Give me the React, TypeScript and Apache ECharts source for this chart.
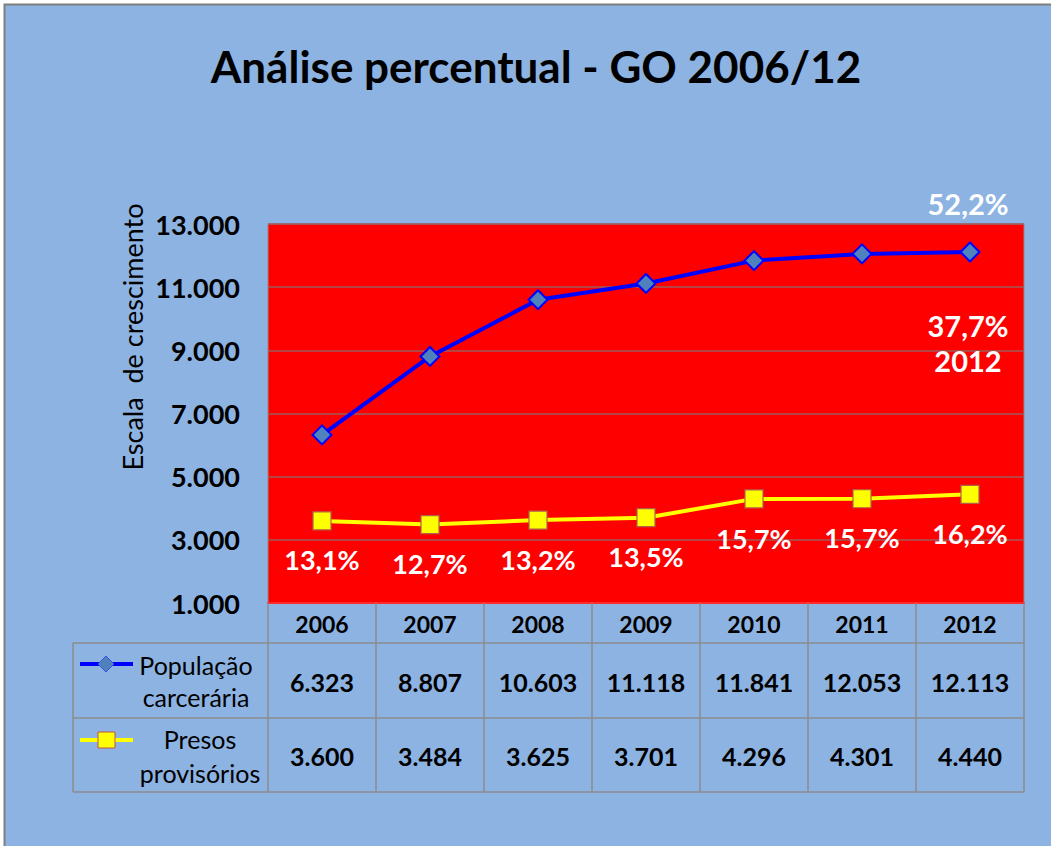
import React, { useEffect, useRef } from "react";
import * as echarts from "echarts";

const years = ["2006", "2007", "2008", "2009", "2010", "2011", "2012"];
const populacao = [6323, 8807, 10603, 11118, 11841, 12053, 12113];
const presos = [3600, 3484, 3625, 3701, 4296, 4301, 4440];
const presosPct = ["13,1%", "12,7%", "13,2%", "13,5%", "15,7%", "15,7%", "16,2%"];
const yTicks = [1000, 3000, 5000, 7000, 9000, 11000, 13000];
const seriesNames = [["População", "carcerária"], ["Presos", "provisórios"]];
const topNotes = ["52,2%", "37,7%", "2012"];
const titleText = "Análise percentual - GO 2006/12";
const yName = "Escala  de crescimento";

const FONT = "Lato, 'Open Sans', sans-serif";
const W = 1051;
const H = 846;
const GL = 268;
const GR = 1024;
const GT = 224;
const GB = 603;
const TL = 73;
const ROW1 = 643;
const ROW2 = 718;
const ROW3 = 792;
const GRID_LINE = "#8c8c8c";

const fmt = (v: number) => String(v).replace(/\B(?=(\d{3})+(?!\d))/g, ".");

export default function App() {
  const ref = useRef<HTMLDivElement>(null);
  useEffect(() => {
    if (!ref.current) return;
    const chart = echarts.init(ref.current, null, { renderer: "svg" });
    const n = years.length;
    const colW = (GR - GL) / n;
    const cx = (i: number) => GL + colW * (i + 0.5);

    const graphics: any[] = [];
    graphics.push({
      type: "rect",
      z: -10,
      shape: { x: 4.5, y: 4.5, width: W + 20, height: H + 20 },
      style: { fill: "#8DB3E2", stroke: "#7f7f7f", lineWidth: 2 },
      silent: true,
    });
    graphics.push({
      type: "text",
      x: 536,
      y: 66,
      style: {
        text: titleText,
        font: `bold 44px ${FONT}`,
        fill: "#000",
        align: "center",
        verticalAlign: "middle",
      },
    });
    graphics.push({
      type: "text",
      x: 132,
      y: 337,
      rotation: Math.PI / 2,
      style: {
        text: yName,
        font: `27px ${FONT}`,
        fill: "#000",
        align: "center",
        verticalAlign: "middle",
      },
    });
    // table lines
    const hl = (x1: number, x2: number, y: number) => ({
      type: "line",
      z: 5,
      shape: { x1, y1: y, x2, y2: y },
      style: { stroke: GRID_LINE, lineWidth: 1.5 },
    });
    const vl = (x: number, y1: number, y2: number) => ({
      type: "line",
      z: 5,
      shape: { x1: x, y1, x2: x, y2 },
      style: { stroke: GRID_LINE, lineWidth: 1.5 },
    });
    graphics.push(hl(TL, GR, ROW1));
    graphics.push(hl(TL, GR, ROW2));
    graphics.push(hl(TL, GR, ROW3));
    graphics.push(vl(TL, ROW1, ROW3));
    for (let k = 0; k <= n; k++) graphics.push(vl(GL + colW * k, GB, ROW3));
    // values
    const rows = [populacao, presos];
    const rowCenters = [(ROW1 + ROW2) / 2, (ROW2 + ROW3) / 2];
    rows.forEach((arr, r) => {
      arr.forEach((v, i) => {
        graphics.push({
          type: "text",
          x: cx(i),
          y: rowCenters[r] + 1,
          style: {
            text: fmt(v),
            font: `bold 25px ${FONT}`,
            fill: "#000",
            align: "center",
            verticalAlign: "middle",
          },
        });
      });
    });
    // legend keys
    const keyY = [664, 740];
    graphics.push({
      type: "line",
      shape: { x1: 80, y1: keyY[0], x2: 133, y2: keyY[0] },
      style: { stroke: "#0000FF", lineWidth: 4 },
    });
    graphics.push({
      type: "polygon",
      shape: {
        points: [
          [106, keyY[0] - 8],
          [114, keyY[0]],
          [106, keyY[0] + 8],
          [98, keyY[0]],
        ],
      },
      style: { fill: "#4F81BD", stroke: "#3355dd", lineWidth: 1 },
    });
    graphics.push({
      type: "line",
      shape: { x1: 80, y1: keyY[1], x2: 133, y2: keyY[1] },
      style: { stroke: "#FFFF00", lineWidth: 4 },
    });
    graphics.push({
      type: "rect",
      shape: { x: 98, y: keyY[1] - 8, width: 17, height: 16 },
      style: { fill: "#FFFF00", stroke: "#C0504D", lineWidth: 1 },
    });
    const nameY = [
      [665, 697],
      [739, 773],
    ];
    seriesNames.forEach((pair, r) => {
      pair.forEach((t, j) => {
        graphics.push({
          type: "text",
          x: r === 0 ? 196 : 200,
          y: nameY[r][j],
          style: {
            text: t,
            font: `25px ${FONT}`,
            fill: "#000",
            align: "center",
            verticalAlign: "middle",
          },
        });
      });
    });
    // top-right notes
    const noteY = [203, 325, 360];
    topNotes.forEach((t, i) => {
      graphics.push({
        type: "text",
        z: 10,
        x: cx(n - 1) - 2,
        y: noteY[i],
        style: {
          text: t,
          font: `bold 29px ${FONT}`,
          fill: "#fff",
          align: "center",
          verticalAlign: "middle",
        },
      });
    });

    chart.setOption({
      animation: false,
      backgroundColor: "#ffffff",
      grid: {
        left: GL,
        right: W - GR,
        top: GT,
        bottom: H - GB,
        show: true,
        backgroundColor: "#FF0000",
        borderColor: "#8c8c8c",
        borderWidth: 1,
      },
      xAxis: {
        type: "category",
        data: years,
        boundaryGap: true,
        axisLine: { show: true, lineStyle: { color: "#ff2a2a", width: 2 } },
        axisTick: { show: false },
        axisLabel: {
          color: "#000",
          fontFamily: FONT,
          fontWeight: "bold",
          fontSize: 23,
          margin: 9,
        },
        splitLine: { show: false },
      },
      yAxis: {
        type: "value",
        min: yTicks[0],
        max: yTicks[yTicks.length - 1],
        axisLine: { show: false },
        axisTick: { show: false, customValues: yTicks },
        axisLabel: {
          customValues: yTicks,
          formatter: (v: number) => fmt(v),
          color: "#000",
          fontFamily: FONT,
          fontWeight: "bold",
          fontSize: 27,
          margin: 28,
        },
        splitLine: { show: true, lineStyle: { color: "#a05a5a", width: 1.5 } },
      },
      series: [
        {
          name: seriesNames[0].join(" "),
          type: "line",
          data: populacao,
          symbol: "diamond",
          symbolSize: 19,
          lineStyle: { color: "#0000FF", width: 4 },
          itemStyle: { color: "#4F81BD", borderColor: "#0000FF", borderWidth: 2 },
          z: 3,
        },
        {
          name: seriesNames[1].join(" "),
          type: "line",
          data: presos,
          symbol: "rect",
          symbolSize: 18,
          lineStyle: { color: "#FFFF00", width: 4 },
          itemStyle: { color: "#FFFF00", borderColor: "#B0604A", borderWidth: 1.2 },
          label: {
            show: true,
            position: "bottom",
            distance: 16,
            formatter: (p: any) => presosPct[p.dataIndex],
            color: "#fff",
            fontFamily: FONT,
            fontWeight: "bold",
            fontSize: 27,
          },
          z: 3,
        },
      ],
      graphic: graphics,
    });
    return () => chart.dispose();
  }, []);

  return (
    <div style={{ position: "fixed", left: 0, top: 0, width: W, height: H, background: "#fff" }}>
      <div ref={ref} style={{ width: W, height: H }} />
    </div>
  );
}
